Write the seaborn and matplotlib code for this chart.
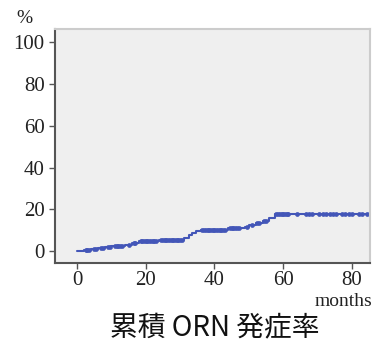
import numpy as np
import pandas as pd
import matplotlib
matplotlib.use("Agg")
import matplotlib.pyplot as plt
import seaborn as sns

# cumulative ORN incidence (step curve)
event_months = [0, 2, 4, 6, 8, 10, 14, 16, 18, 24, 31, 32.5, 33.5, 34.5, 36, 44, 49, 50, 52, 54, 56, 57.5,
                85]
incidence = [0, 0.5, 1.0, 1.5, 2.0, 2.5, 3.0, 4.0, 4.7, 5.5, 6.5, 7.5, 8.5, 9.5, 10.2, 11.0, 11.5, 12.5,
             13.5, 14.5, 16.0, 18.0, 18.0]
# censored follow-up times
censor_months = [2.5, 3, 3.5, 5, 5.5, 7, 7.5, 9, 9.5, 11, 11.5, 12, 12.5, 13, 15, 16.5, 17, 18.5, 19,
                 19.5, 20, 20.5, 21, 21.5, 22, 22.5, 23, 24.5, 25, 25.5, 26, 26.5, 27, 27.5, 28, 28.5,
                 29, 29.5, 30, 30.5, 36.5, 37, 37.5, 38, 38.5, 39, 39.5, 40, 40.5, 41, 41.5, 42, 42.5,
                 43, 44.5, 45, 45.5, 46, 46.5, 47, 49.5, 51, 52.5, 53, 54.5, 55, 58, 58.5, 59, 59.5, 60,
                 60.5, 61, 61.5, 64, 66.5, 67.5, 68.5, 70.5, 71.5, 72.5, 73.5, 74.5, 75.5, 77, 78,
                 79, 80, 82, 83, 84.5]

blue = "#4356b8"

curve = pd.DataFrame({"month": event_months, "pct": incidence})
idx = np.searchsorted(event_months, censor_months, side="right") - 1
censored = pd.DataFrame({"month": censor_months, "pct": np.array(incidence)[idx]})

sns.set_style("white")
plt.rcParams["font.family"] = ["Liberation Serif", "DejaVu Serif"]

fig = plt.figure(figsize=(3.73, 3.43), dpi=100)
ax = fig.add_axes([0.1475, 0.233, 0.844, 0.682])
ax.set_facecolor("#efefef")

sns.lineplot(data=curve, x="month", y="pct", drawstyle="steps-post", color=blue, linewidth=1.5, ax=ax)
sns.scatterplot(data=censored, x="month", y="pct", marker="o", s=8, color=blue, edgecolor=blue,
                linewidth=0.5, ax=ax)

ax.set_xlim(-6.4, 85.2)
ax.set_ylim(-5.7, 106.2)
ax.set_xticks([0, 20, 40, 60, 80])
ax.set_yticks([0, 20, 40, 60, 80, 100])
ax.set_xlabel("")
ax.set_ylabel("")
ax.tick_params(axis="both", direction="out", length=4, width=1, color="#555555", labelsize=15,
               labelcolor="#222222", left=True, bottom=True)
ax.tick_params(axis="x", pad=1.5)

for side in ["left", "bottom"]:
    ax.spines[side].set_color("#555555")
    ax.spines[side].set_linewidth(1.5)
for side in ["top", "right"]:
    ax.spines[side].set_color("#cccccc")
    ax.spines[side].set_linewidth(1.5)

fig.text(0.045, 0.945, "%", fontsize=14, color="#222222", ha="left", va="center")
fig.text(0.997, 0.122, "months", fontsize=14, color="#222222", ha="right", va="center")
fig.text(0.577, 0.043, "累積 ORN 発症率", fontsize=20, color="#111111", ha="center", va="center",
         family=["Noto Sans CJK JP", "DejaVu Sans"])

fig.savefig("out.png", dpi=100)
